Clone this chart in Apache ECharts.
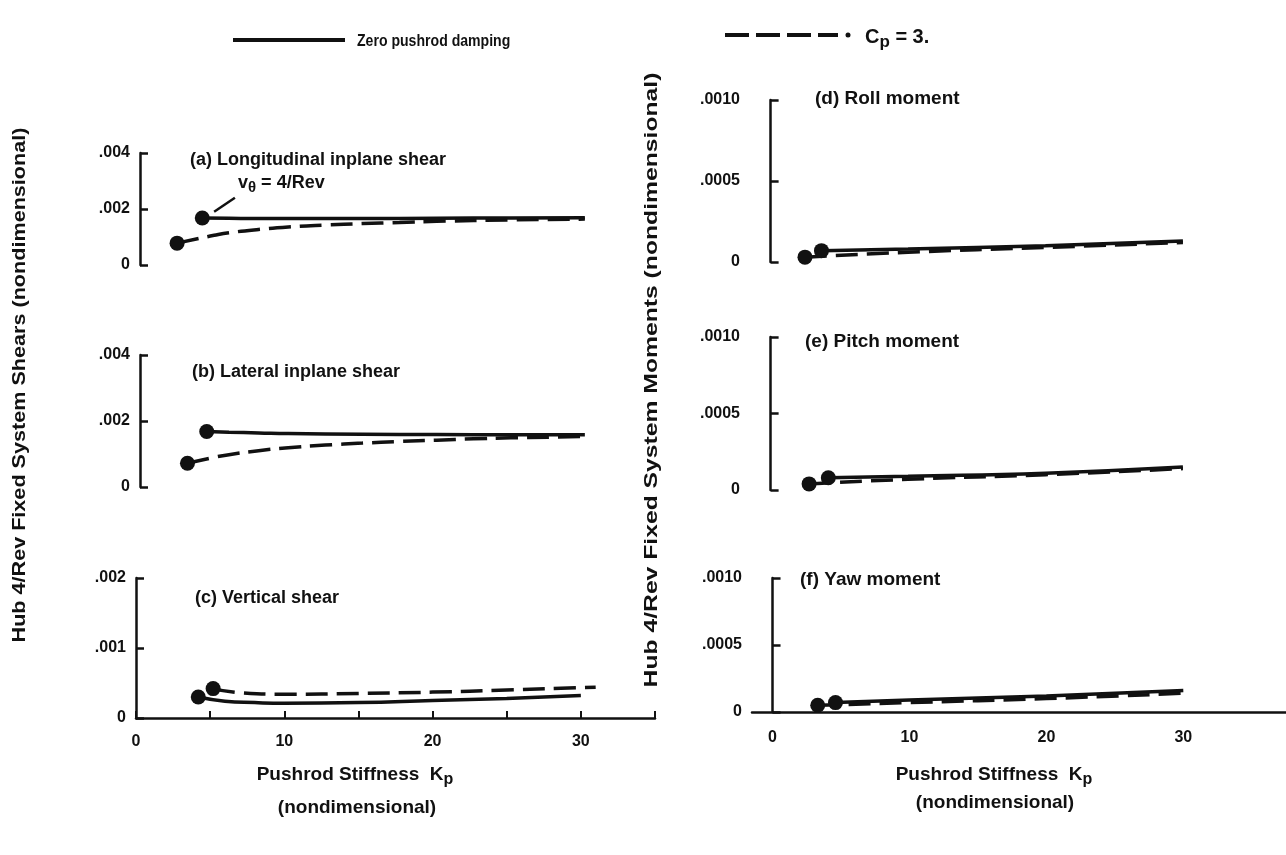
<!DOCTYPE html>
<html>
<head>
<meta charset="utf-8">
<script src="https://cdn.jsdelivr.net/npm/echarts@6/dist/echarts.min.js"></script>
<style>
html, body { margin: 0; background: #fff; }
#container { width: 1286px; height: 855px; }
</style>
</head>
<body>
<div id="container"></div>
<script>
// tick labels
var kTicks = ['0', '10', '20', '30'];
var kTickValues = [0, 10, 20, 30];
var shearTicks = ['0', '.002', '.004'];
var vertTicks = ['0', '.001', '.002'];
var momentTicks = ['0', '.0005', '.0010'];

// (a) longitudinal inplane shear
var aSolidK = [4.2, 6, 8, 10, 15, 20, 25, 30];
var aSolidV = [0.00168, 0.00167, 0.00166, 0.00166, 0.00166, 0.00167, 0.00168, 0.00169];
var aDashK = [2.5, 4, 5, 6, 8, 10, 12.5, 15, 17.5, 20, 25, 30];
var aDashV = [0.00078, 0.00095, 0.00106, 0.00115, 0.00127, 0.00136, 0.00143, 0.00148, 0.00152, 0.00156, 0.00161, 0.00164];

// (b) lateral inplane shear
var bSolidK = [4.5, 6, 8, 10, 15, 20, 25, 30];
var bSolidV = [0.00168, 0.00166, 0.00164, 0.00162, 0.0016, 0.00159, 0.00158, 0.00158];
var bDashK = [3.2, 5, 6, 8, 10, 12.5, 15, 17.5, 20, 22.5, 25, 27.5, 30];
var bDashV = [0.00072, 0.0009, 0.00098, 0.0011, 0.00119, 0.00127, 0.00133, 0.00138, 0.00142, 0.00146, 0.00149, 0.00151, 0.00153];

// (c) vertical shear
var cSolidK = [4.2, 6, 8, 10, 15, 20, 25, 30];
var cSolidV = [0.0003, 0.00024, 0.00022, 0.00021, 0.00022, 0.00025, 0.00028, 0.00032];
var cDashK = [5.2, 7, 10, 15, 20, 25, 31];
var cDashV = [0.00042, 0.00036, 0.00034, 0.00035, 0.00037, 0.0004, 0.00044];

// (d) roll moment
var dSolidK = [3.7, 10, 20, 30];
var dSolidV = [0.00007, 0.00008, 0.0001, 0.00013];
var dDashK = [2.5, 10, 20, 30];
var dDashV = [0.00003, 0.00006, 0.00009, 0.00012];

// (e) pitch moment
var eSolidK = [4.2, 10, 20, 30];
var eSolidV = [0.00008, 0.00009, 0.00011, 0.00015];
var eDashK = [2.8, 10, 20, 30];
var eDashV = [0.00004, 0.00007, 0.0001, 0.00014];

// (f) yaw moment
var fSolidK = [4.6, 10, 20, 30];
var fSolidV = [0.00007, 0.00009, 0.00012, 0.00016];
var fDashK = [3.3, 10, 20, 30];
var fDashV = [0.00005, 0.00007, 0.0001, 0.00014];

var FONT = 'Liberation Sans, Arial, sans-serif';
var ink = '#111';

var myChart = echarts.init(document.getElementById('container'));

function pairs(k, v) {
	var out = [];
	for (var i = 0; i < k.length; i++) out.push([k[i], v[i]]);
	return out;
}

function line(k, v, idx, dashed) {
	return {
		type: 'line',
		xAxisIndex: idx,
		yAxisIndex: idx,
		data: pairs(k, v),
		smooth: true,
		symbol: 'circle',
		showSymbol: true,
		symbolSize: function (val, p) { return p.dataIndex === 0 ? 15 : 0; },
		itemStyle: { color: ink },
		lineStyle: { color: ink, width: 3.5, type: dashed ? [22, 9] : 'solid' },
		silent: true,
		z: dashed ? 3 : 4
	};
}

function yAxis(idx, max, interval, labels) {
	return {
		type: 'value',
		gridIndex: idx,
		min: 0,
		max: max,
		interval: interval,
		axisLine: { show: true, lineStyle: { color: ink, width: 2.5 } },
		axisTick: { show: true, inside: true, length: 8, lineStyle: { color: ink, width: 2.5 } },
		axisLabel: {
			color: ink, fontFamily: FONT, fontWeight: 'bold', fontSize: 16, margin: 10,
			formatter: function (v) { return labels[Math.round(v / interval)]; }
		},
		splitLine: { show: false }
	};
}

// left column: K = 0 sits on the y axis
function xAxisLeft(idx, visible) {
	return {
		type: 'value',
		gridIndex: idx,
		min: 0,
		max: 35,
		interval: 5,
		show: visible,
		axisLine: { show: true, onZero: false, lineStyle: { color: ink, width: 2.5 } },
		axisTick: { show: true, inside: true, length: 7, lineStyle: { color: ink, width: 2 } },
		axisLabel: {
			color: ink, fontFamily: FONT, fontWeight: 'bold', fontSize: 16, margin: 16,
			formatter: function (v) { return v % 10 === 0 && v <= 30 ? kTicks[v / 10] : ''; }
		},
		splitLine: { show: false }
	};
}

// right column: the y axis stands a little left of K = 0
function xAxisRight(idx, visible) {
	return {
		type: 'value',
		gridIndex: idx,
		min: -1.5,
		max: 37.5,
		show: visible,
		axisLine: { show: true, onZero: false, lineStyle: { color: ink, width: 2.5 } },
		axisTick: { show: false },
		axisLabel: {
			color: ink, fontFamily: FONT, fontWeight: 'bold', fontSize: 16, margin: 18,
			customValues: kTickValues,
			formatter: function (v) { return kTicks[Math.round(v / 10)]; }
		},
		splitLine: { show: false }
	};
}

var grids = [
	{ left: 140, top: 153, width: 519, height: 112 },
	{ left: 140, top: 355, width: 519, height: 132 },
	{ left: 136, top: 578, width: 519, height: 140 },
	{ left: 750, top: 100, width: 538, height: 162 },
	{ left: 750, top: 337, width: 538, height: 153 },
	{ left: 752, top: 578, width: 538, height: 134 }
];

var seriesA = line(aSolidK, aSolidV, 0, false);
// pointer for the nu_theta note
seriesA.markLine = {
	silent: true,
	symbol: 'none',
	label: { show: false },
	lineStyle: { color: ink, width: 2.5, type: 'solid' },
	data: [[{ coord: [5.0, 0.0019] }, { coord: [6.4, 0.0024] }]]
};

function title(text, x, y, size) {
	return {
		text: text, left: x, top: y, padding: 0,
		textStyle: { color: ink, fontFamily: FONT, fontWeight: 'bold', fontSize: size }
	};
}

function txt(x, y, text, size, rot, align, stretch) {
	return {
		type: 'text', x: x, y: y, rotation: rot || 0, scaleX: stretch || 1,
		style: {
			text: text, fill: ink, font: 'bold ' + size + 'px ' + FONT,
			align: align || 'left', verticalAlign: 'middle',
			rich: {
				sub: { fill: ink, font: 'bold ' + (size - 3) + 'px ' + FONT, padding: [10, 0, 0, 0] }
			}
		}
	};
}

var option = {
	backgroundColor: '#fff',
	animation: false,
	title: [
		title('(a) Longitudinal inplane shear', 190, 151, 18),
		title('(b) Lateral inplane shear', 192, 363, 18),
		title('(c) Vertical shear', 195, 589, 18),
		title('(d) Roll moment', 815, 89, 19),
		title('(e) Pitch moment', 805, 332, 19),
		title('(f) Yaw moment', 800, 570, 19)
	],
	grid: grids,
	xAxis: [
		xAxisLeft(0, false),
		xAxisLeft(1, false),
		xAxisLeft(2, true),
		xAxisRight(3, false),
		xAxisRight(4, false),
		xAxisRight(5, true)
	],
	yAxis: [
		yAxis(0, 0.004, 0.002, shearTicks),
		yAxis(1, 0.004, 0.002, shearTicks),
		yAxis(2, 0.002, 0.001, vertTicks),
		yAxis(3, 0.001, 0.0005, momentTicks),
		yAxis(4, 0.001, 0.0005, momentTicks),
		yAxis(5, 0.001, 0.0005, momentTicks)
	],
	series: [
		seriesA, line(aDashK, aDashV, 0, true),
		line(bSolidK, bSolidV, 1, false), line(bDashK, bDashV, 1, true),
		line(cSolidK, cSolidV, 2, false), line(cDashK, cDashV, 2, true),
		line(dSolidK, dSolidV, 3, false), line(dDashK, dDashV, 3, true),
		line(eSolidK, eSolidV, 4, false), line(eDashK, eDashV, 4, true),
		line(fSolidK, fSolidV, 5, false), line(fDashK, fDashV, 5, true)
	],
	graphic: [
		// legend
		{ type: 'line', shape: { x1: 233, y1: 40, x2: 345, y2: 40 }, style: { stroke: ink, lineWidth: 4 } },
		txt(357, 42, 'Zero pushrod damping', 16, 0, 'left', 0.88),
		{ type: 'line', shape: { x1: 725, y1: 35, x2: 838, y2: 35 }, style: { stroke: ink, lineWidth: 4, lineDash: [24, 7] } },
		{ type: 'circle', shape: { cx: 848, cy: 35, r: 2.5 }, style: { fill: ink } },
		txt(865, 37, 'C{sub|p} = 3.', 20),
		// note in (a)
		txt(238, 183, 'v{sub|θ} = 4/Rev', 18),
		// axis names
		txt(20, 385, 'Hub 4/Rev Fixed System Shears (nondimensional)', 18, Math.PI / 2, 'center', 1.2),
		txt(652, 380, 'Hub 4/Rev Fixed System Moments (nondimensional)', 19, Math.PI / 2, 'center', 1.3),
		txt(355, 775, 'Pushrod Stiffness  K{sub|p}', 19, 0, 'center'),
		txt(357, 808, '(nondimensional)', 19, 0, 'center'),
		txt(994, 775, 'Pushrod Stiffness  K{sub|p}', 19, 0, 'center'),
		txt(995, 803, '(nondimensional)', 19, 0, 'center')
	]
};

myChart.setOption(option);
window.onresize = myChart.resize;
</script>
</body>
</html>
